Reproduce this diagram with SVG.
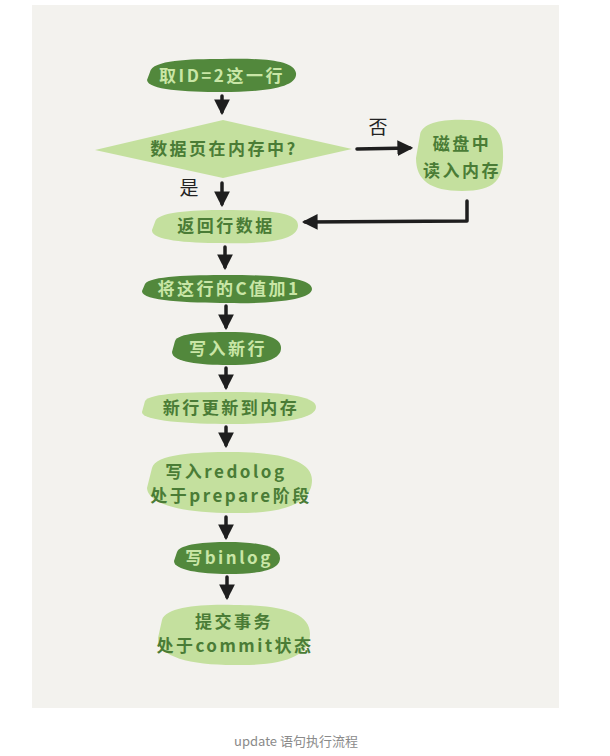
<svg xmlns="http://www.w3.org/2000/svg" width="610" height="756" viewBox="0 0 610 756">
<defs>
<style>
.dark{fill:#52883c}
.light{fill:#c4e09e}
.tl{font-family:"Noto Sans CJK SC","Liberation Sans",sans-serif;font-size:17px;fill:#c9e6a6;text-anchor:middle;font-weight:bold;letter-spacing:2.5px}
.td{font-family:"Noto Sans CJK SC","Liberation Sans",sans-serif;font-size:17px;fill:#4a7c36;text-anchor:middle;font-weight:bold;letter-spacing:2.5px}
.lab{font-family:"Noto Sans CJK SC","Liberation Sans",sans-serif;font-size:19px;fill:#222;text-anchor:middle}
.conn{stroke:#1e1e1e;stroke-width:3.5;fill:none;stroke-linecap:round;stroke-linejoin:round}
.cap{font-family:"Noto Sans CJK SC","Liberation Sans",sans-serif;font-size:13px;fill:#8a8a8a;text-anchor:middle}
</style>
<marker id="ah" viewBox="0 0 10 10" refX="8" refY="5" markerWidth="4.5" markerHeight="4.5" markerUnits="strokeWidth" orient="auto">
<path d="M0,0 L10,5 L0,10 Z" fill="#1e1e1e"/>
</marker>
</defs>
<rect x="32" y="5" width="527" height="703" fill="#f3f2ee"/>

<g id="n1">
<path class="dark" d="M150,72 C152,60 190,59 222,59 C262,58 294,60 296,73 C298,88 262,92 222,92 C185,92 148,90 147,80 Z"/>
<text class="tl" x="222" y="82">取ID=2这一行</text>
</g>
<g id="n2">
<path class="light" d="M223,120 L352,149 L223,178 L95,150 Z"/>
<text class="td" x="224" y="155">数据页在内存中?</text>
</g>
<g id="n3">
<path class="light" d="M420,135 C422,122 445,119 466,120 C492,120 503,130 503,152 C504,180 495,191 462,191 C430,191 416,180 416,158 Z"/>
<text class="td" x="462" y="150">磁盘中</text>
<text class="td" x="462" y="177">读入内存</text>
</g>
<g id="n4">
<path class="light" d="M155,222 C157,212 190,210 225,210 C268,210 299,212 298,226 C297,241 265,244 222,243 C185,243 151,240 152,230 Z"/>
<text class="td" x="226" y="232">返回行数据</text>
</g>
<g id="n5">
<path class="dark" d="M145,284 C150,276 190,275 228,275 C270,275 312,277 312,289 C312,300 270,304 228,303 C188,303 141,301 142,291 Z"/>
<text class="tl" x="229" y="295">将这行的C值加1</text>
</g>
<g id="n6">
<path class="dark" d="M175,341 C178,333 205,332 228,332 C255,332 281,335 281,348 C281,362 255,365 228,365 C200,365 172,362 172,352 Z"/>
<text class="tl" x="228" y="355">写入新行</text>
</g>
<g id="n7">
<path class="light" d="M145,401 C150,393 190,392 230,392 C275,392 316,395 316,407 C316,420 275,424 230,424 C190,424 141,421 142,412 Z"/>
<text class="td" x="231" y="414">新行更新到内存</text>
</g>
<g id="n8">
<path class="light" d="M152,468 C156,454 195,452 232,452 C280,452 312,460 312,480 C312,503 285,514 232,513 C185,513 148,505 147,488 Z"/>
<text class="td" x="226" y="478">写入redolog</text>
<text class="td" x="231" y="502">处于prepare阶段</text>
</g>
<g id="n9">
<path class="dark" d="M177,552 C180,544 205,542 228,542 C258,542 280,546 280,558 C280,571 256,574 228,574 C200,574 174,570 174,561 Z"/>
<text class="tl" x="229" y="564">写binlog</text>
</g>
<g id="n10">
<path class="light" d="M162,620 C166,607 200,604 234,605 C280,605 310,612 310,634 C310,657 282,666 234,665 C190,665 158,657 158,638 Z"/>
<text class="td" x="234" y="628">提交事务</text>
<text class="td" x="235" y="652">处于commit状态</text>
</g>

<g id="connectors">
<path class="conn" marker-end="url(#ah)" d="M222,96 L222,112"/>
<path class="conn" marker-end="url(#ah)" d="M357,149 L410,148"/>
<path class="conn" marker-end="url(#ah)" d="M222,183 L222,204"/>
<path class="conn" marker-end="url(#ah)" d="M467,201 L467,221 L305,222"/>
<path class="conn" marker-end="url(#ah)" d="M225,247 L225,267"/>
<path class="conn" marker-end="url(#ah)" d="M226,306 L226,327"/>
<path class="conn" marker-end="url(#ah)" d="M226,368 L226,387"/>
<path class="conn" marker-end="url(#ah)" d="M226,427 L226,445"/>
<path class="conn" marker-end="url(#ah)" d="M226,517 L226,537"/>
<path class="conn" marker-end="url(#ah)" d="M227,577 L227,597"/>
<text class="lab" x="378" y="134">否</text>
<text class="lab" x="189" y="195">是</text>
</g>

<text class="cap" x="296" y="746">update 语句执行流程</text>
</svg>
